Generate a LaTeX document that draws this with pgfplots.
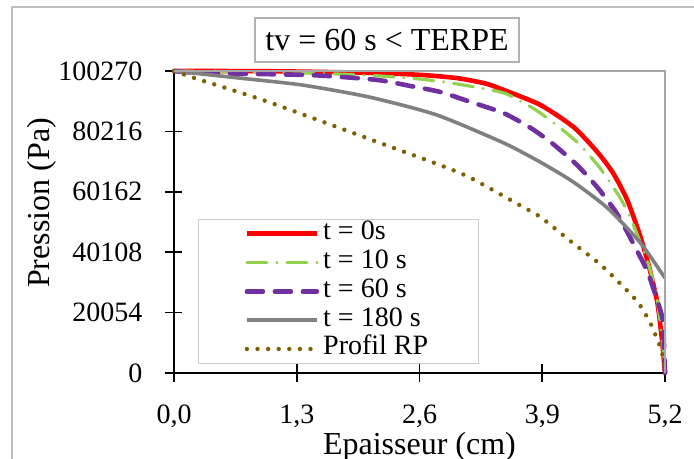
\documentclass[border=0pt]{standalone}
\usepackage{fontspec}
\setmainfont{Liberation Serif}
\usepackage{pgfplots}
\pgfplotsset{compat=1.18}

\definecolor{cred}{HTML}{FF0000}
\definecolor{cgreen}{HTML}{92D050}
\definecolor{cpurple}{HTML}{7030A0}
\definecolor{cgray}{HTML}{808080}
\definecolor{cbrown}{HTML}{7F6000}

\begin{document}
\begin{tikzpicture}
\path[use as bounding box] (-87pt,-43pt) rectangle (260pt,186.5pt);
\draw[gray!50, line width=0.6pt] (-81pt,-43pt) -- (-81pt,183pt) -- (260pt,183pt);
\node[draw=gray!60, line width=0.6pt, minimum width=132pt, minimum height=22pt,
      inner sep=0pt, font=\fontsize{16}{19}\selectfont] at (106.5pt,166.5pt) {tv = 60 s < TERPE};
\begin{axis}[
    at={(0pt,0pt)}, anchor=south west,
    scale only axis, width=245.5pt, height=151pt,
    xmin=0, xmax=5.2, ymin=0, ymax=100270,
    clip=false,
    axis x line*=bottom, axis y line*=left,
    axis line style={black, line width=1pt},
    xtick={0,1.3,2.6,3.9,5.2},
    xticklabels={{0,0},{1,3},{2,6},{3,9},{5,2}},
    ytick={0,20054,40108,60162,80216,100270},
    yticklabels={0,20054,40108,60162,80216,100270},
    scaled y ticks=false,
    tick align=center, major tick length=8.5pt,
    tick style={black, line width=0.8pt},
    /pgf/number format/assume math mode=true,
    ticklabel style={font=\fontsize{14}{16}\selectfont},
    xticklabel style={anchor=base, yshift=-21pt},
    yticklabel style={xshift=-8pt},
    xlabel={Epaisseur (cm)},
    ylabel={Pression (Pa)},
    every axis x label/.style={at={(rel axis cs:0.5,0)}, anchor=base, yshift=-40.5pt,
        font=\fontsize{16}{19}\selectfont},
    every axis y label/.style={at={(rel axis cs:0,0.563)}, xshift=-66pt, rotate=90,
        anchor=center, font=\fontsize{16}{19}\selectfont},
    extra description/.code={
        \draw[gray!70, line width=0.6pt] (rel axis cs:0,1) -- (rel axis cs:1,1) -- (rel axis cs:1,0);
    },
    legend cell align=left,
    legend image code/.code={\draw[#1] (0pt,0pt) -- (35pt,0pt);},
    legend style={at={(rel axis cs:0.0489,0.0298)}, anchor=south west,
        draw=gray!40, line width=0.6pt, inner xsep=23pt, inner ysep=0pt,
        row sep=0pt, font=\fontsize{14}{16}\selectfont,
        nodes={inner xsep=2pt, inner ysep=0pt, text height=10.2pt, text depth=4.2pt}},
    every axis plot/.append style={smooth, tension=0.4},
]
\addplot[cred, line width=2.3pt] coordinates {
    (0,100270) (1.0,100200) (2.0,99700) (2.6,99000) (3.0,97900) (3.3,96100)
    (3.49,94000) (3.88,89000) (4.23,81700) (4.48,73500) (4.65,66400) (4.80,57400)
    (4.94,45200) (5.04,34200) (5.12,23200) (5.17,10500) (5.2,0)};
\addlegendentry{t = 0s}
\addplot[cgreen, line width=1.6pt, line cap=round,
         dash pattern=on 10pt off 5pt on 0pt off 5pt] coordinates {
    (0,100270) (1.0,99940) (2.0,98940) (2.6,97610) (3.0,95950) (3.49,93000)
    (3.77,88500) (3.88,86300) (4.01,83300) (4.16,79600) (4.30,75700) (4.51,68100)
    (4.72,58400) (4.83,51800) (4.94,43200) (5.01,37500) (5.10,27600) (5.15,16600)
    (5.19,5300) (5.2,0)};
\addlegendentry{t = 10 s}
\addplot[cpurple, line width=2.3pt, line cap=round,
         dash pattern=on 8pt off 6pt] coordinates {
    (0,100270) (0.3,99600) (1.45,98900) (2.15,97300) (2.5,95300) (2.82,93300)
    (3.14,90000) (3.49,86300) (3.77,81500) (4.00,76400) (4.27,69000) (4.49,61400)
    (4.70,52500) (4.90,40800) (5.02,33200) (5.15,20900) (5.18,16000) (5.2,0)};
\addlegendentry{t = 60 s}
\addplot[cgray, line width=1.8pt] coordinates {
    (0,100270) (0.67,98000) (1.36,95600) (2.07,91600) (2.78,85700) (3.49,76400)
    (3.88,70000) (4.23,63400) (4.59,54800) (4.94,43200) (5.2,31500)};
\addlegendentry{t = 180 s}
\addplot[cbrown, line width=2.2pt, line cap=round,
         dash pattern=on 0pt off 5.3pt] coordinates {
    (0,100270) (0.22,97900) (0.45,95600) (0.68,93300) (1.0,90000) (1.55,83700)
    (2.18,76400) (2.82,69000) (3.14,64800) (3.68,55400) (3.88,51800) (4.23,43000)
    (4.51,36200) (4.76,28600) (4.92,23200) (5.04,16900) (5.13,10300) (5.17,6600)
    (5.2,0)};
\addlegendentry{Profil RP}
\end{axis}
\end{tikzpicture}
\end{document}
